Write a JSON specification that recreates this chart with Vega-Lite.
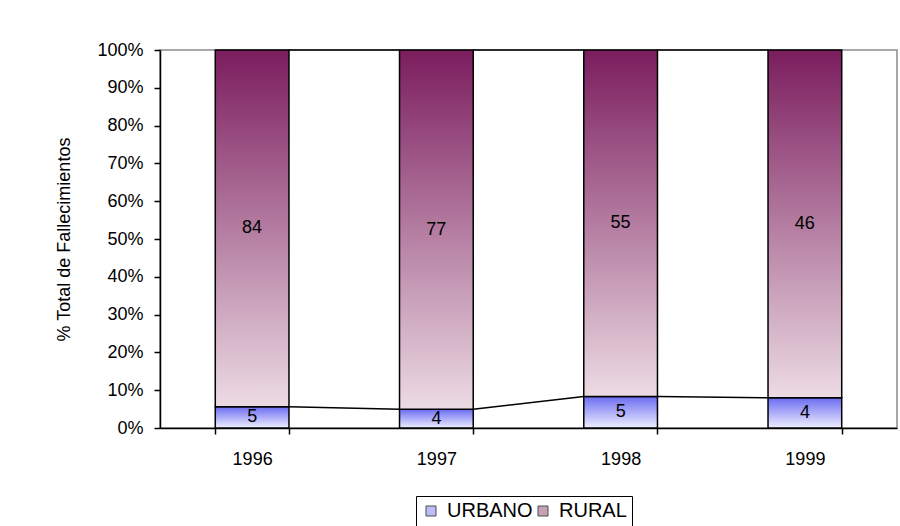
{
  "$schema": "https://vega.github.io/schema/vega-lite/v6.json",
  "width": 737,
  "height": 378,
  "autosize": "none",
  "padding": {"left": 160, "top": 50, "right": 3, "bottom": 98},
  "background": "white",
  "config": {
    "font": "Liberation Sans",
    "view": {"stroke": "#8c8c8c", "strokeWidth": 1.5}
  },
  "data": {
    "values": [
      {"year": "1996", "series": "URBANO", "order": 1, "value": 5},
      {"year": "1996", "series": "RURAL", "order": 2, "value": 84},
      {"year": "1997", "series": "URBANO", "order": 1, "value": 4},
      {"year": "1997", "series": "RURAL", "order": 2, "value": 77},
      {"year": "1998", "series": "URBANO", "order": 1, "value": 5},
      {"year": "1998", "series": "RURAL", "order": 2, "value": 55},
      {"year": "1999", "series": "URBANO", "order": 1, "value": 4},
      {"year": "1999", "series": "RURAL", "order": 2, "value": 46}
    ]
  },
  "encoding": {
    "x": {
      "field": "year",
      "type": "ordinal",
      "scale": {"paddingInner": 0.6, "paddingOuter": 0.3},
      "axis": {
        "title": null,
        "labelAngle": 0,
        "labelPadding": 16,
        "tickBand": "extent",
        "labelFontSize": 18,
        "labelFont": "Liberation Sans",
        "labelColor": "black",
        "domainColor": "black",
        "domainWidth": 1.5,
        "tickColor": "black",
        "tickWidth": 1.5,
        "tickSize": 6,
        "grid": false
      }
    }
  },
  "resolve": {"axis": {"y": "independent"}},
  "layer": [
    {
      "transform": [
        {"stack": "value", "groupby": ["year"], "sort": [{"field": "order"}], "as": ["v0", "v1"], "offset": "normalize"},
        {"filter": "datum.series === 'URBANO'"}
      ],
      "mark": {
        "type": "bar",
        "stroke": "black",
        "strokeWidth": 1.5,
        "color": {"gradient": "linear", "x1": 0, "y1": 0, "x2": 0, "y2": 1,
          "stops": [{"offset": 0, "color": "#6c6cf2"}, {"offset": 1, "color": "#efefff"}]}
      },
      "encoding": {
        "y": {
          "field": "v0",
          "type": "quantitative",
          "scale": {"domain": [0, 1], "nice": false},
          "axis": {
            "title": "% Total de Fallecimientos",
            "format": ".0%",
            "values": [0, 0.1, 0.2, 0.3, 0.4, 0.5, 0.6, 0.7, 0.8, 0.9, 1],
            "tickCount": 20,
            "labelOverlap": false,
            "labelPadding": 11,
            "titlePadding": 23,
            "labelFontSize": 18,
            "titleFontSize": 18,
            "titleFontWeight": "normal",
            "labelFont": "Liberation Sans",
            "titleFont": "Liberation Sans",
            "labelColor": "black",
            "titleColor": "black",
            "domainColor": "black",
            "domainWidth": 1.5,
            "tickColor": "black",
            "tickWidth": 1.5,
            "tickSize": 6,
            "grid": false
          }
        },
        "y2": {"field": "v1"}
      }
    },
    {
      "transform": [
        {"stack": "value", "groupby": ["year"], "sort": [{"field": "order"}], "as": ["v0", "v1"], "offset": "normalize"},
        {"filter": "datum.series === 'RURAL'"}
      ],
      "mark": {
        "type": "bar",
        "stroke": "black",
        "strokeWidth": 1.5,
        "color": {"gradient": "linear", "x1": 0, "y1": 0, "x2": 0, "y2": 1,
          "stops": [{"offset": 0, "color": "#7b1d5e"}, {"offset": 1, "color": "#ecdbe3"}]}
      },
      "encoding": {
        "y": {"field": "v0", "type": "quantitative", "axis": null},
        "y2": {"field": "v1"}
      }
    },
    {
      "transform": [
        {"stack": "value", "groupby": ["year"], "sort": [{"field": "order"}], "as": ["v0", "v1"], "offset": "normalize"},
        {"window": [{"op": "lead", "field": "v1", "as": "nv1"}, {"op": "lead", "field": "year", "as": "nyear"}], "groupby": ["series"], "sort": [{"field": "year"}]},
        {"filter": "datum.nyear != null"}
      ],
      "mark": {"type": "rule", "stroke": "black", "strokeWidth": 1.5},
      "encoding": {
        "x": {"field": "year", "type": "ordinal", "bandPosition": 1},
        "x2": {"field": "nyear", "bandPosition": 0},
        "y": {"field": "v1", "type": "quantitative", "axis": null},
        "y2": {"field": "nv1"}
      }
    },
    {
      "mark": {"type": "text", "fontSize": 18, "color": "black", "baseline": "middle", "font": "Liberation Sans"},
      "encoding": {
        "y": {"field": "value", "type": "quantitative", "stack": "normalize", "bandPosition": 0.5, "axis": null},
        "order": {"field": "order"},
        "text": {"field": "value"}
      }
    },
    {
      "transform": [{"filter": "false"}],
      "mark": {"type": "square"},
      "encoding": {
        "color": {
          "field": "series",
          "type": "nominal",
          "scale": {"domain": ["URBANO", "RURAL"], "range": ["#a0a0f6", "#ad7a96"]},
          "legend": {
            "title": null,
            "orient": "none",
            "legendX": 256,
            "legendY": 446,
            "direction": "horizontal",
            "strokeColor": "black",
            "padding": 5,
            "symbolType": "square",
            "symbolSize": 100,
            "symbolStrokeColor": "black",
            "symbolStrokeWidth": 1,
            "labelFontSize": 20,
            "labelFont": "Liberation Sans",
            "labelColor": "black",
            "labelOffset": 6,
            "columnPadding": 0,
            "symbolOffset": 0,
            "encode": {
              "symbols": {
                "update": {
                  "fill": {"signal": "datum.value === 'URBANO' ? {gradient: 'linear', x1: 0, y1: 0, x2: 0, y2: 1, stops: [{offset: 0, color: '#6c6cf2'}, {offset: 1, color: '#efefff'}]} : {gradient: 'linear', x1: 0, y1: 0, x2: 0, y2: 1, stops: [{offset: 0, color: '#7b1d5e'}, {offset: 1, color: '#ecdbe3'}]}"},
                  "stroke": {"value": "black"},
                  "opacity": {"value": 1}
                }
              }
            }
          }
        }
      }
    }
  ]
}
